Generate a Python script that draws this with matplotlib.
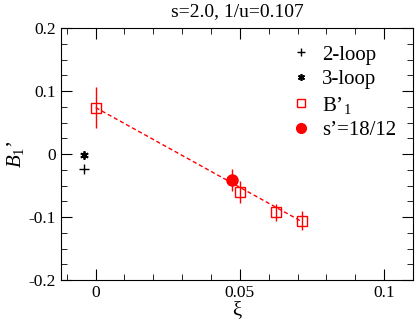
import matplotlib
matplotlib.use("Agg")
import matplotlib.pyplot as plt
from matplotlib.ticker import MultipleLocator
from matplotlib.lines import Line2D

plt.rcParams['font.family'] = ['Liberation Serif', 'DejaVu Serif']
plt.rcParams['mathtext.fontset'] = 'custom'
plt.rcParams['mathtext.rm'] = 'Liberation Serif'
plt.rcParams['mathtext.it'] = 'Liberation Serif:italic'

# Data
b1_x = [0.0, 0.05, 0.0625, 0.0714]
b1_y = [0.074, -0.060, -0.0925, -0.106]
b1_err = [0.033, 0.017, 0.014, 0.015]

s_x = [0.0473]
s_y = [-0.041]
s_err = [0.018]

loop2_x = [-0.004]
loop2_y = [-0.024]
loop3_x = [-0.004]
loop3_y = [-0.001]

fit_x = [0.0, 0.0714]
fit_y = [0.074, -0.107]

labels = ['2-loop', '3-loop', 'B’$_{\\mathrm{1}}$', 's’=18/12']

red = '#ff0000'

fig = plt.figure(figsize=(4.15, 3.25), dpi=100)
ax = fig.add_axes([61/415, 1-280/325, (413-61)/415, (280-28.3)/325])

ax.plot(fit_x, fit_y, color=red, lw=1, ls=(0, (3, 2)))
ax.errorbar(b1_x, b1_y, yerr=b1_err, fmt='s', mfc='none', mec=red, ecolor=red,
            ms=7, mew=1, elinewidth=1, capsize=0)
ax.errorbar(s_x, s_y, yerr=s_err, fmt='o', color=red, ms=8, elinewidth=1,
            capsize=0)
ax.plot(loop2_x, loop2_y, '+', color='black', ms=7, mew=1, ls='none')
ax.plot(loop3_x, loop3_y, marker=(6, 2, 0), color='black', ms=6, mew=1.3, ls='none')

ax.set_xlim(-0.012, 0.11)
ax.set_ylim(-0.2, 0.2)
ax.xaxis.set_minor_locator(MultipleLocator(0.01))
ax.yaxis.set_minor_locator(MultipleLocator(0.025))
ax.set_xticks([0, 0.05, 0.1])
ax.set_xticklabels(['0', '0.05', '0.1'])
ax.set_yticks([-0.2, -0.1, 0, 0.1, 0.2])
ax.set_yticklabels(['-0.2', '-0.1', '0', '0.1', '0.2'])
ax.tick_params(which='both', direction='in', top=True, right=True, labelsize=12.5)
ax.tick_params(which='major', length=8)
ax.tick_params(which='minor', length=4)

ax.set_xlabel('ξ', fontsize=15, labelpad=0)
ax.set_ylabel("$B_1$’", fontsize=15, labelpad=2)
ax.set_title('s=2.0, 1/u=0.107', fontsize=14, pad=9)

handles = [
    Line2D([], [], ls='none', marker='+', color='black', ms=6, mew=1),
    Line2D([], [], ls='none', marker=(6, 2, 0), color='black', ms=5, mew=1.2),
    Line2D([], [], ls='none', marker='s', mfc='none', mec=red, ms=6, mew=1),
    Line2D([], [], ls='none', marker='o', color=red, ms=7),
]
ax.legend(handles, labels, loc='upper right',
          frameon=False, fontsize=15, handlelength=1, handletextpad=0.5,
          labelspacing=0.25, borderaxespad=0.4, borderpad=0.4)

fig.savefig('out.png', dpi=100)
